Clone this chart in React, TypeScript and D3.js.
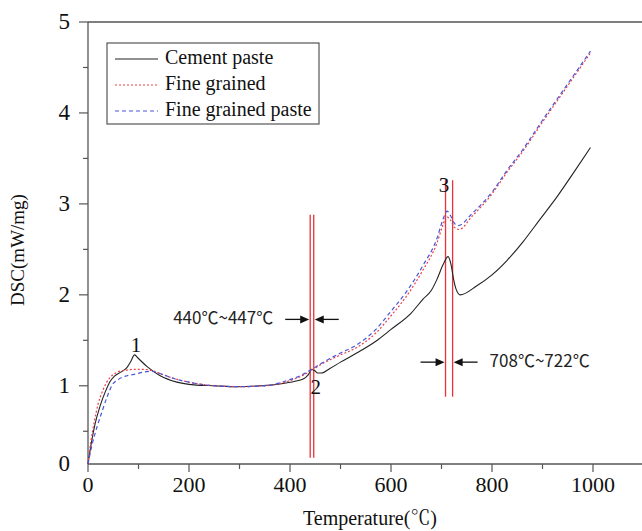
import React from 'react';
import * as d3 from 'd3';

const X_DOMAIN: [number, number] = [0, 1100];
const Y_MIN = 0.14;
const Y_MAX = 5;
const xMajorTicks = [0, 200, 400, 600, 800, 1000];
const xMinorTicks = [100, 300, 500, 700, 900];
const yMajorTicks = [Y_MIN, 1, 2, 3, 4, 5];
const yMajorLabels = ['0', '1', '2', '3', '4', '5'];
const yMinorTicks = [0.5, 1.5, 2.5, 3.5, 4.5];

const seriesNames = ['Cement paste', 'Fine grained', 'Fine grained paste'];

const cementPaste: [number, number][] = [
  [0, 0.14], [6, 0.35], [14, 0.58], [24, 0.78], [34, 0.93], [44, 1.05], [53, 1.11], [65, 1.15],
  [77, 1.2], [85, 1.27], [92, 1.34], [100, 1.3], [117, 1.21], [143, 1.11], [176, 1.04], [210, 1.01],
  [250, 1.0], [295, 0.99], [341, 1.0], [380, 1.02], [410, 1.05], [428, 1.08], [436, 1.12], [443, 1.18],
  [448, 1.17], [455, 1.14], [462, 1.14], [479, 1.19], [500, 1.26], [532, 1.36], [570, 1.49], [600, 1.62],
  [640, 1.8], [663, 1.95], [680, 2.05], [691, 2.17], [703, 2.33], [713, 2.42], [719, 2.33], [724, 2.17],
  [729, 2.06], [737, 2.0], [770, 2.1], [800, 2.22], [830, 2.38], [861, 2.58], [895, 2.83], [929, 3.08],
  [960, 3.33], [995, 3.62],
];

const fineGrained: [number, number][] = [
  [0, 0.14], [6, 0.4], [13, 0.62], [20, 0.8], [28, 0.93], [37, 1.04], [47, 1.11], [58, 1.15],
  [72, 1.17], [90, 1.18], [110, 1.18], [125, 1.17], [145, 1.13], [170, 1.08], [200, 1.04], [250, 1.0],
  [300, 0.99], [350, 1.0], [390, 1.04], [420, 1.1], [440, 1.16], [460, 1.23], [500, 1.34], [532, 1.42],
  [570, 1.58], [600, 1.77], [630, 1.98], [663, 2.27], [691, 2.57], [703, 2.77], [710, 2.86], [718, 2.82],
  [726, 2.74], [735, 2.72], [760, 2.86], [800, 3.11], [830, 3.35], [860, 3.57], [900, 3.9], [950, 4.3],
  [995, 4.66],
];

const fineGrainedPaste: [number, number][] = [
  [0, 0.14], [8, 0.35], [18, 0.55], [28, 0.72], [38, 0.88], [47, 1.0], [60, 1.07], [77, 1.11],
  [95, 1.13], [110, 1.15], [125, 1.16], [145, 1.13], [170, 1.08], [200, 1.04], [250, 1.0], [300, 0.99],
  [350, 1.0], [390, 1.05], [420, 1.11], [440, 1.17], [460, 1.24], [500, 1.36], [532, 1.45], [570, 1.62],
  [600, 1.82], [630, 2.03], [663, 2.32], [691, 2.62], [703, 2.83], [711, 2.92], [718, 2.87], [724, 2.8],
  [733, 2.76], [760, 2.89], [800, 3.13], [830, 3.37], [860, 3.59], [900, 3.92], [950, 4.32], [995, 4.68],
];

const markerPairs: [number, number][] = [[440, 447], [708, 722]];
const markerSpans: [number, number][] = [[0.21, 2.88], [0.88, 3.26]];
const arrowLevels = [1.73, 1.26];
const rangeLabels = ['440\u2103~447\u2103', '708\u2103~722\u2103'];

const peakLabels = ['1', '2', '3'];
const peakX = [95, 451, 705];
const peakY = [1.42, 0.96, 3.18];

const W = 642;
const H = 531;
const left = 88;
const top = 22;
const bottom = 464;
const right = left + 1100 * 0.505;

const SERIF = "'Liberation Serif', 'Times New Roman', 'Noto Serif CJK KR', serif";
const SANS = "'Noto Sans CJK KR', 'Noto Sans', sans-serif";
const AXIS = '#555';

const seriesStyles = [
  { color: '#222', dash: undefined as string | undefined, width: 1.1 },
  { color: '#e8414b', dash: '2,2', width: 1.2 },
  { color: '#4a55d8', dash: '4,3', width: 1.2 },
];

export default function App() {
  const x = d3.scaleLinear().domain(X_DOMAIN).range([left, right]);
  const y = d3.scaleLinear().domain([Y_MIN, Y_MAX]).range([bottom, top]);
  const line = d3
    .line<[number, number]>()
    .x((d) => x(d[0]))
    .y((d) => y(d[1]))
    .curve(d3.curveMonotoneX);
  const data = [cementPaste, fineGrained, fineGrainedPaste];

  const arrowHead = (tipX: number, tipY: number, dir: number) =>
    `${tipX},${tipY} ${tipX - dir * 9},${tipY - 4} ${tipX - dir * 9},${tipY + 4}`;

  return (
    <svg
      width={W}
      height={H}
      style={{ position: 'absolute', left: 0, top: 0, background: '#fff' }}
    >
      {/* frame */}
      <line x1={left} x2={left} y1={top} y2={bottom} stroke={AXIS} strokeWidth={1.3} />
      <line x1={left} x2={right} y1={bottom} y2={bottom} stroke={AXIS} strokeWidth={1.3} />
      <line x1={left} x2={right} y1={top} y2={top} stroke={AXIS} strokeWidth={1.3} />
      <line x1={right} x2={right} y1={top} y2={bottom} stroke={AXIS} strokeWidth={1.3} />

      {/* x ticks */}
      {xMajorTicks.map((t) => (
        <g key={'xm' + t}>
          <line x1={x(t)} x2={x(t)} y1={bottom} y2={bottom + 8} stroke={AXIS} strokeWidth={1.2} />
          <text x={x(t)} y={bottom + 28} textAnchor="middle" fontFamily={SERIF} fontSize={22} fill="#111">
            {t}
          </text>
        </g>
      ))}
      {xMinorTicks.map((t) => (
        <line key={'xn' + t} x1={x(t)} x2={x(t)} y1={bottom} y2={bottom + 5} stroke={AXIS} strokeWidth={1.2} />
      ))}

      {/* y ticks */}
      {yMajorTicks.map((t, i) => (
        <g key={'ym' + i}>
          {t >= 0.5 && (
            <line x1={left - 9} x2={left} y1={y(t)} y2={y(t)} stroke={AXIS} strokeWidth={1.2} />
          )}
          <text
            x={left - 18}
            y={y(t) + 2}
            textAnchor="end"
            dominantBaseline="middle"
            fontFamily={SERIF}
            fontSize={23}
            fill="#111"
          >
            {yMajorLabels[i]}
          </text>
        </g>
      ))}
      {yMinorTicks.map((t) => (
        <line key={'yn' + t} x1={left - 5} x2={left} y1={y(t)} y2={y(t)} stroke={AXIS} strokeWidth={1.2} />
      ))}

      {/* axis titles */}
      <text x={370} y={525} textAnchor="middle" fontFamily={SERIF} fontSize={20} fill="#111">
        Temperature(℃)
      </text>
      <text
        transform={`translate(24, ${250}) rotate(-90)`}
        textAnchor="middle"
        fontFamily={SERIF}
        fontSize={19}
        fill="#111"
      >
        DSC(mW/mg)
      </text>

      {/* marker lines */}
      {markerPairs.map((pair, i) =>
        pair.map((t, j) => (
          <line
            key={'mk' + i + j}
            x1={x(t)}
            x2={x(t)}
            y1={y(markerSpans[i][0])}
            y2={y(markerSpans[i][1])}
            stroke="#e8323c"
            strokeWidth={1.3}
          />
        ))
      )}

      {/* series */}
      {data.map((d, i) => (
        <path
          key={'s' + i}
          d={line(d) || ''}
          fill="none"
          stroke={seriesStyles[i].color}
          strokeWidth={seriesStyles[i].width}
          strokeDasharray={seriesStyles[i].dash}
        />
      ))}

      {/* arrows & range labels */}
      {markerPairs.map((pair, i) => {
        const ay = y(arrowLevels[i]);
        const lx = x(pair[0]) - 1;
        const rx = x(pair[1]) + 1;
        return (
          <g key={'ar' + i}>
            <line x1={lx - 24} x2={lx - 6} y1={ay} y2={ay} stroke="#111" strokeWidth={1.3} />
            <polygon points={arrowHead(lx, ay, 1)} fill="#111" />
            <line x1={rx + 24} x2={rx + 6} y1={ay} y2={ay} stroke="#111" strokeWidth={1.3} />
            <polygon points={arrowHead(rx, ay, -1)} fill="#111" />
            {i === 0 ? (
              <text x={lx - 36} y={ay} textAnchor="end" dominantBaseline="middle" fontFamily={SANS} fontSize={17} fill="#222">
                {rangeLabels[i]}
              </text>
            ) : (
              <text x={rx + 36} y={ay} textAnchor="start" dominantBaseline="middle" fontFamily={SANS} fontSize={17} fill="#222">
                {rangeLabels[i]}
              </text>
            )}
          </g>
        );
      })}

      {/* peak labels */}
      {peakLabels.map((t, i) => (
        <text
          key={'pk' + i}
          x={x(peakX[i])}
          y={y(peakY[i])}
          textAnchor="middle"
          dominantBaseline="middle"
          fontFamily={SERIF}
          fontSize={21}
          fill="#111"
        >
          {t}
        </text>
      ))}

      {/* legend */}
      <g>
        <rect x={107} y={43} width={212} height={81} fill="#fff" stroke={AXIS} strokeWidth={1.2} />
        {seriesNames.map((name, i) => (
          <g key={'lg' + i}>
            <line
              x1={115}
              x2={158}
              y1={59 + i * 26}
              y2={59 + i * 26}
              stroke={seriesStyles[i].color}
              strokeWidth={seriesStyles[i].width}
              strokeDasharray={seriesStyles[i].dash}
            />
            <text x={165} y={59 + i * 26} dominantBaseline="middle" fontFamily={SERIF} fontSize={20} fill="#111">
              {name}
            </text>
          </g>
        ))}
      </g>
    </svg>
  );
}
